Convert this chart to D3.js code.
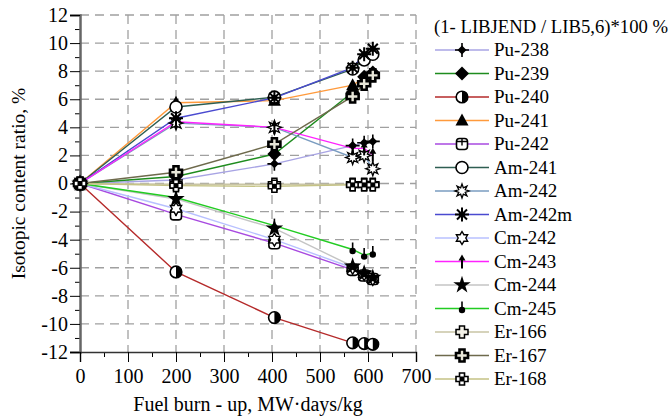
<!DOCTYPE html>
<html>
<head>
<meta charset="utf-8">
<script src="https://cdn.jsdelivr.net/npm/d3@7"></script>
<style>
  body { margin: 0; background: #fff; }
  svg text { font-family: "Liberation Serif", "Times New Roman", Times, "DejaVu Serif", serif !important; fill: #000; }
</style>
</head>
<body>
<div id="chart"></div>
<script>
// burn-up points (MW·days/kg)
var burnup = [0, 200, 405, 568, 592, 610];

// isotopic content ratio, % (one array per nuclide)
var pu238 = [0, 0.25, 1.4, 2.7, 2.9, 3.0];
var pu239 = [0, 0.5, 2.1, 6.5, 7.6, 7.9];
var pu240 = [0, -6.3, -9.55, -11.35, -11.4, -11.45];
var pu241 = [0, 5.75, 5.9, 7.0, 7.5, 7.8];
var pu242 = [0, -2.2, -4.25, -6.15, -6.55, -6.8];
var am241 = [0, 5.45, 6.15, 8.15, 8.8, 9.2];
var am242 = [0, 4.3, 4.0, 1.85, 2.0, 1.05];
var am242m = [0, 4.65, 6.1, 8.25, 9.2, 9.6];
var cm242 = [0, -1.8, -4.0, -6.0, -6.45, -6.8];
var cm243 = [0, 4.4, 4.0, 2.5, 2.5, 2.05];
var cm244 = [0, -1.1, -3.2, -5.9, -6.4, -6.7];
var cm245 = [0, -1.0, -3.0, -4.7, -5.1, -4.95];
var er166 = [0, -0.05, -0.05, -0.05, -0.05, -0.05];
var er167 = [0, 0.8, 2.8, 6.2, 7.1, 7.7];
var er168 = [0, -0.15, -0.2, -0.1, -0.1, -0.1];

var names = ["Pu-238", "Pu-239", "Pu-240", "Pu-241", "Pu-242", "Am-241", "Am-242", "Am-242m",
             "Cm-242", "Cm-243", "Cm-244", "Cm-245", "Er-166", "Er-167", "Er-168"];
var values = [pu238, pu239, pu240, pu241, pu242, am241, am242, am242m,
              cm242, cm243, cm244, cm245, er166, er167, er168];
var colors = ["#a8a4e4", "#1e8c1e", "#b52a2a", "#ff9a3c", "#a84ae0", "#2e5e52", "#7a9cc0", "#4a4ad0",
              "#b8c0ff", "#ff22ff", "#c4c4c4", "#22cc22", "#c8c4a4", "#6e6a4c", "#c4c284"];

var xTicks = [0, 100, 200, 300, 400, 500, 600, 700];
var yTicks = [-12, -10, -8, -6, -4, -2, 0, 2, 4, 6, 8, 10, 12];
var legendTitle = "(1- LIBJEND / LIB5,6)*100 %";

var width = 672, height = 417;
var serif = "'Liberation Serif', 'Times New Roman', Times, serif";

var svg = d3.select("#chart")
  .append("svg")
  .attr("width", width)
  .attr("height", height)
  .attr("font-family", serif);

svg.append("rect").attr("width", width).attr("height", height).attr("fill", "#fff");

var x = d3.scaleLinear().domain([0, 700]).range([80, 416]);
var y = d3.scaleLinear().domain([-12, 12]).range([352, 15]);

// dashed grid
svg.append("g").selectAll("line")
  .data(xTicks.filter(d => d > 0))
  .enter().append("line")
  .attr("x1", d => x(d)).attr("x2", d => x(d))
  .attr("y1", y(12)).attr("y2", y(-12))
  .attr("stroke", "#a0a0a0").attr("stroke-width", 1.3)
  .attr("stroke-dasharray", "9,6");

svg.append("g").selectAll("line")
  .data(yTicks.filter(d => d > -12))
  .enter().append("line")
  .attr("x1", x(0)).attr("x2", x(700))
  .attr("y1", d => y(d)).attr("y2", d => y(d))
  .attr("stroke", "#a0a0a0").attr("stroke-width", 1.3)
  .attr("stroke-dasharray", "9,6");

// axes
var yMinor = svg.append("g")
  .attr("transform", `translate(${x(0)},0)`)
  .call(d3.axisLeft(y).tickValues(d3.range(-11, 12, 2)).tickSize(5).tickFormat(""));
yMinor.select(".domain").remove();

var yAxis = svg.append("g")
  .attr("transform", `translate(${x(0)},0)`)
  .call(d3.axisLeft(y).tickValues(yTicks).tickSize(10).tickPadding(2).tickFormat(d => String(d)));
yAxis.attr("font-family", serif).attr("font-size", 20);
yAxis.select(".domain").attr("stroke", "#666").attr("stroke-width", 2.5);

var xMinor = svg.append("g")
  .attr("transform", `translate(0,${y(-12)})`)
  .call(d3.axisBottom(x).tickValues(d3.range(50, 700, 100)).tickSize(5).tickFormat(""));
xMinor.select(".domain").remove();

var xAxis = svg.append("g")
  .attr("transform", `translate(0,${y(-12)})`)
  .call(d3.axisBottom(x).tickValues(xTicks).tickSize(10).tickPadding(7).tickFormat(d => String(d)));
xAxis.attr("font-family", serif).attr("font-size", 20);
xAxis.select(".domain").attr("stroke", "#333").attr("stroke-width", 1.5);

// axis titles
svg.append("text")
  .attr("x", 248).attr("y", 411)
  .attr("text-anchor", "middle")
  .attr("font-size", 20)
  .text("Fuel burn - up, MW·days/kg");

svg.append("text")
  .attr("transform", `translate(25,${y(0)}) rotate(-90)`)
  .attr("text-anchor", "middle")
  .attr("font-size", 19.5)
  .text("Isotopic content ratio, %");

// marker shapes
function starPts(n, r1, r2) {
  var pts = [];
  for (var i = 0; i < n * 2; i++) {
    var a = Math.PI * i / n;
    var r = i % 2 == 0 ? r1 : r2;
    pts.push([a, r]);
  }
  return d3.lineRadial().curve(d3.curveLinearClosed)(pts);
}
var crossPath = "M-2.5,-6H2.5V-2.5H6V2.5H2.5V6H-2.5V2.5H-6V-2.5H-2.5Z";

var markers = {
  "Pu-238": g => {
    g.append("path").attr("d", "M-7,0H7M0,-7V7").attr("stroke", "#000").attr("stroke-width", 1.6);
    g.append("path").attr("d", "M0,-4.5L4.5,0L0,4.5L-4.5,0Z").attr("fill", "#000");
  },
  "Pu-239": g => {
    g.append("path").attr("d", "M0,-7L7,0L0,7L-7,0Z").attr("fill", "#000");
  },
  "Pu-240": g => {
    g.append("circle").attr("r", 5.8).attr("fill", "#fff").attr("stroke", "#000").attr("stroke-width", 1.6);
    g.append("path").attr("d", "M0,-5.8A5.8,5.8 0 0,1 0,5.8Z").attr("fill", "#000");
  },
  "Pu-241": g => {
    g.append("path").attr("d", "M0,-7L6.5,5L-6.5,5Z").attr("fill", "#000");
  },
  "Pu-242": g => {
    g.append("rect").attr("x", -5.5).attr("y", -5.5).attr("width", 11).attr("height", 11).attr("rx", 3)
      .attr("fill", "#fff").attr("stroke", "#000").attr("stroke-width", 1.6);
    g.append("path").attr("d", "M-5.5,-2.5H5.5M0,-5.5V1.5").attr("stroke", "#000").attr("stroke-width", 1.4);
  },
  "Am-241": g => {
    g.append("circle").attr("r", 6).attr("fill", "#fff").attr("stroke", "#000").attr("stroke-width", 1.6);
  },
  "Am-242": g => {
    g.append("path").attr("d", starPts(8, 7, 3.5)).attr("fill", "#fff").attr("stroke", "#000").attr("stroke-width", 1.3);
  },
  "Am-242m": g => {
    g.append("path").attr("d", "M0,-7V7M-7,0H7M-5,-5L5,5M-5,5L5,-5").attr("stroke", "#000").attr("stroke-width", 2);
    g.append("circle").attr("r", 3).attr("fill", "#000");
  },
  "Cm-242": g => {
    g.append("path").attr("d", starPts(6, 6.5, 3.8)).attr("fill", "#fff").attr("stroke", "#000").attr("stroke-width", 1.4);
  },
  "Cm-243": g => {
    g.append("path").attr("d", "M0,-3V7").attr("stroke", "#000").attr("stroke-width", 2);
    g.append("path").attr("d", "M0,-7L3.5,-1L-3.5,-1Z").attr("fill", "#000");
  },
  "Cm-244": g => {
    g.append("path").attr("d", d3.symbol(d3.symbolStar, 95)()).attr("fill", "#000");
  },
  "Cm-245": g => {
    g.append("path").attr("d", "M0,-7V1").attr("stroke", "#000").attr("stroke-width", 1.6);
    g.append("circle").attr("cy", 1.5).attr("r", 3.2).attr("fill", "#000");
  },
  "Er-166": g => {
    g.append("path").attr("d", crossPath).attr("fill", "#f4f2e8").attr("stroke", "#000").attr("stroke-width", 1.5);
  },
  "Er-167": g => {
    g.append("path").attr("d", crossPath).attr("fill", "#e8e6d8").attr("stroke", "#000").attr("stroke-width", 2.6);
  },
  "Er-168": g => {
    g.append("path").attr("d", crossPath).attr("fill", "#fff").attr("stroke", "#000").attr("stroke-width", 1.6);
    g.append("rect").attr("x", -2.5).attr("y", -2.5).attr("width", 5).attr("height", 5).attr("fill", "#000");
  }
};

var line = d3.line()
  .x((d, i) => x(burnup[i]))
  .y(d => y(d));

// lines
names.forEach(function (name, k) {
  svg.append("path")
    .datum(values[k])
    .attr("fill", "none")
    .attr("stroke", colors[k])
    .attr("stroke-width", 1.4)
    .attr("d", line);
});

// markers on top
names.forEach(function (name, k) {
  values[k].forEach(function (v, i) {
    var g = svg.append("g").attr("transform", `translate(${x(burnup[i])},${y(v)})`);
    markers[name](g);
  });
});

// legend
var legend = svg.append("g");
legend.append("text")
  .attr("x", 434).attr("y", 33)
  .attr("font-size", 18.7)
  .text(legendTitle);

names.forEach(function (name, k) {
  var ly = 50 + k * 23.5;
  legend.append("line")
    .attr("x1", 435).attr("x2", 489)
    .attr("y1", ly).attr("y2", ly)
    .attr("stroke", colors[k]).attr("stroke-width", 1.6);
  var g = legend.append("g").attr("transform", `translate(462,${ly})`);
  markers[name](g);
  legend.append("text")
    .attr("x", 494).attr("y", ly + 6)
    .attr("font-size", 19)
    .text(name);
});
</script>
</body>
</html>
